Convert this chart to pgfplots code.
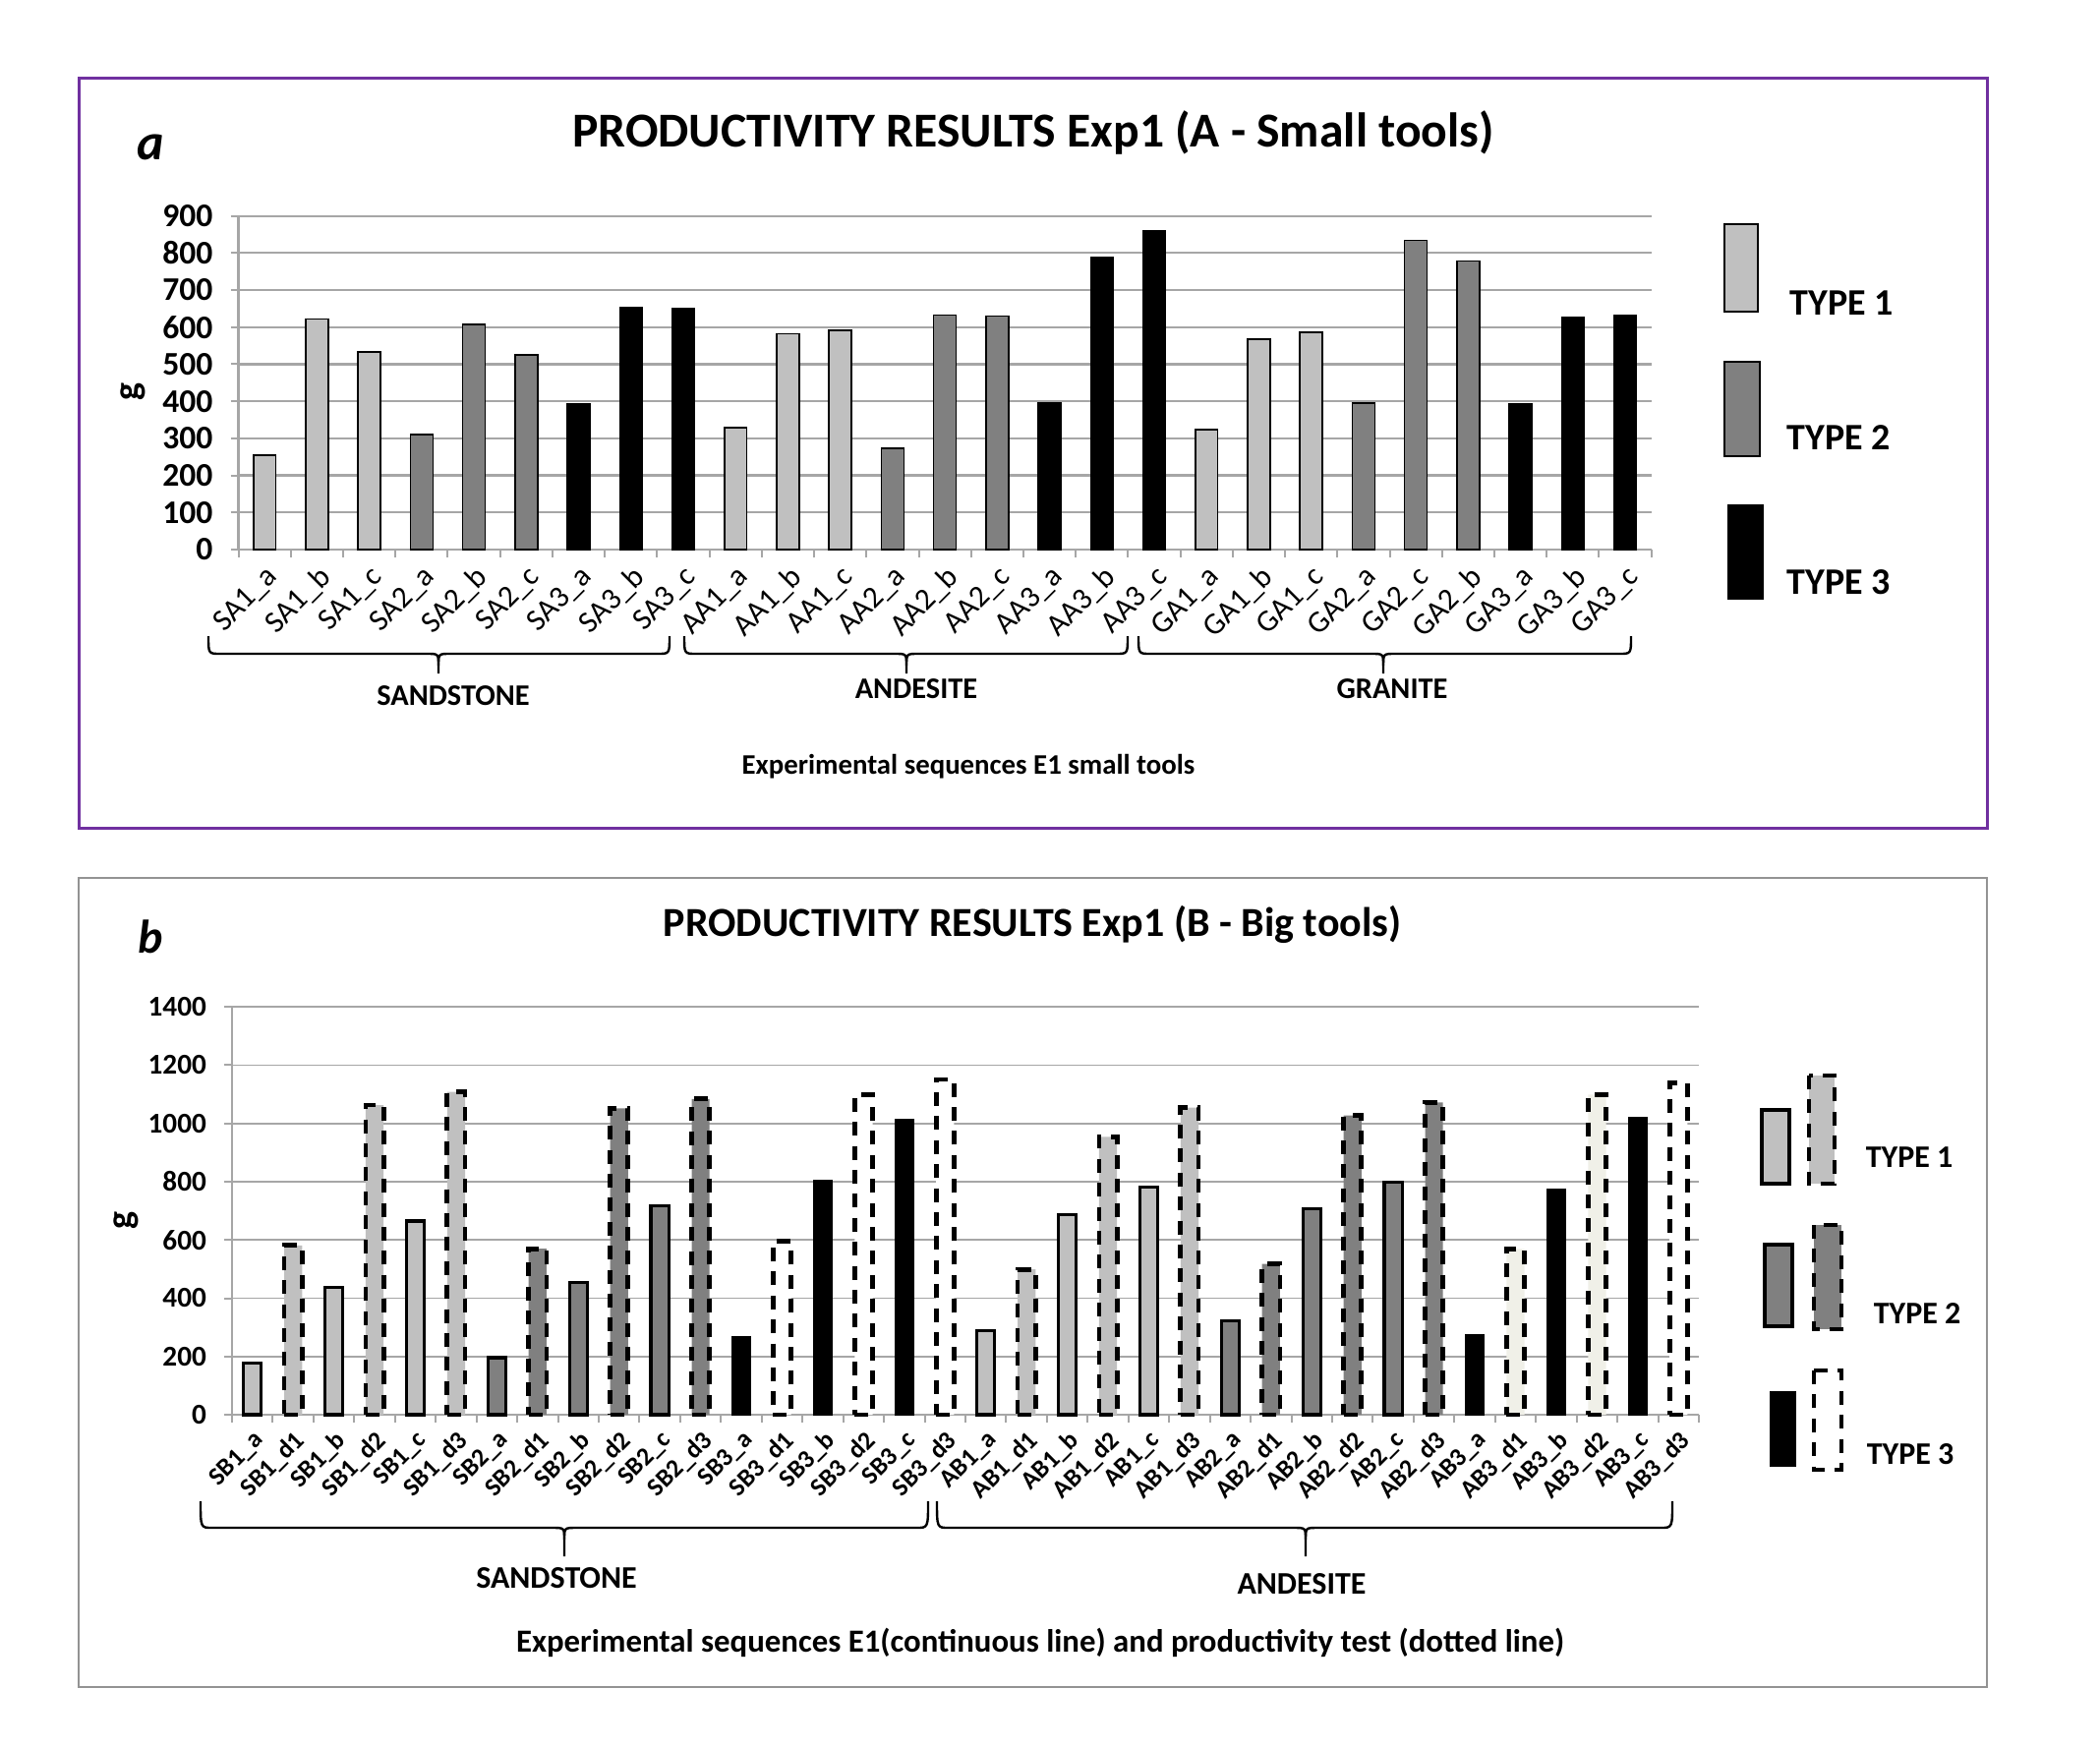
\documentclass[border=0pt]{standalone}
\usepackage{pgfplots}
\pgfplotsset{compat=1.18}
\usepackage{fontspec}
\setmainfont{Carlito}
\definecolor{purp}{RGB}{112,48,160}
\definecolor{tone}{RGB}{192,192,192}
\definecolor{ttwo}{RGB}{128,128,128}
\definecolor{ivory}{RGB}{240,240,232}
\definecolor{gridc}{RGB}{166,166,166}
\newcommand{\fs}[1]{\fontsize{#1}{#1}\selectfont}
\newcommand{\mybrace}[6]{%
 \draw[line width=0.6pt] (#1,#4) .. controls (#1,#5) .. (#1+12,#5) -- (#3-12,#5) .. controls (#3,#5) .. (#3,#5+12) -- (#3,#6);
 \draw[line width=0.6pt] (#2,#4) .. controls (#2,#5) .. (#2-12,#5) -- (#3+12,#5) .. controls (#3,#5) .. (#3,#5+12);}
\tikzset{
 dsh/.style={draw=black, line width=1.2pt, dash pattern=on 3.5pt off 2.6pt},
 sol/.style={draw=black, line width=0.8pt},
}
\pgfplotsset{
 common/.style={
  scale only axis, anchor=south west, ybar, bar shift=0pt,
  axis x line*=bottom, axis y line*=left,
  axis line style={-, draw=gridc, line width=0.6pt},
  tick align=outside,
  major x tick style={draw=none},
  minor x tick style={draw=gridc, line width=0.5pt},
  y tick style={draw=gridc, line width=0.5pt},
  minor tick length=2pt, major tick length=2pt,
  ymajorgrids, grid style={gridc, line width=0.55pt},
  /pgf/number format/assume math mode=true,
  /pgf/number format/1000 sep={},
  xticklabel style={rotate=45, anchor=north east, inner sep=1pt},
  yticklabel style={xshift=-1pt},
  clip=false,
 },
}
\begin{document}
\begin{tikzpicture}
\begin{scope}[x=0.25pt,y=-0.25pt]
\path (0,0) rectangle (2136,1776);
% frames
\draw[purp, line width=0.75pt] (80,80) rectangle (2021,842);
\draw[gray!85, line width=0.5pt] (80,893) rectangle (2021,1716);
% panel a texts
\node[font=\bfseries\fs{12.4}] at (1051,135) {PRODUCTIVITY RESULTS Exp1 (A - Small tools)};
\node[font=\bfseries\itshape\fs{13}] at (153,150) {a};
\node[font=\bfseries\fs{9.5}, rotate=90] at (135,398) {g};
\mybrace{212}{681}{446}{647}{665}{685}
\mybrace{696}{1147}{922}{647}{665}{685}
\mybrace{1158}{1659}{1407}{647}{665}{685}
\node[font=\bfseries\fs{7.6}] at (461,708) {SANDSTONE};
\node[font=\bfseries\fs{7.6}] at (932,701) {ANDESITE};
\node[font=\bfseries\fs{7.6}] at (1416,701) {GRANITE};
\node[font=\bfseries\fs{7.2}] at (985,780) {Experimental sequences E1 small tools};
% legend a
\draw[fill=tone, draw=black, line width=0.4pt] (1754,228) rectangle (1788,317);
\draw[fill=ttwo, draw=black, line width=0.4pt] (1754,368) rectangle (1790,464);
\fill[black] (1757,513) rectangle (1794,610);
\node[font=\bfseries\fs{9.5}] at (1873,308) {TYPE 1};
\node[font=\bfseries\fs{9.5}] at (1870,445) {TYPE 2};
\node[font=\bfseries\fs{9.5}] at (1870,592) {TYPE 3};
% panel b texts
\node[font=\bfseries\fs{10.5}] at (1050,940) {PRODUCTIVITY RESULTS Exp1 (B - Big tools)};
\node[font=\bfseries\itshape\fs{12}] at (153,953) {b};
\node[font=\bfseries\fs{9.5}, rotate=90] at (128,1241) {g};
\mybrace{204}{944}{574}{1527}{1554}{1583}
\mybrace{953}{1701}{1328}{1527}{1554}{1583}
\node[font=\bfseries\fs{8}] at (566,1605) {SANDSTONE};
\node[font=\bfseries\fs{8}] at (1324,1611) {ANDESITE};
\node[font=\bfseries\fs{8.2}] at (1058,1671) {Experimental sequences E1(continuous line) and productivity test (dotted line)};
% legend b
\draw[fill=tone, sol] (1792,1129) rectangle (1820,1204);
\draw[fill=tone, dsh] (1840,1094) rectangle (1866,1204);
\draw[fill=ttwo, sol] (1795,1266) rectangle (1823,1349);
\draw[fill=ttwo, dsh] (1845,1246) rectangle (1873,1352);
\fill[black] (1800,1415) rectangle (1827,1492);
\draw[fill=white, dsh] (1845,1394) rectangle (1873,1495);
\node[font=\bfseries\fs{8}, anchor=west, inner sep=0pt] at (1897,1177) {TYPE 1};
\node[font=\bfseries\fs{8}, anchor=west, inner sep=0pt] at (1905,1336) {TYPE 2};
\node[font=\bfseries\fs{8}, anchor=west, inner sep=0pt] at (1898,1479) {TYPE 3};
\end{scope}

% ---------- panel a ----------
\begin{axis}[common,
 at={(60.65pt,-139.75pt)}, width=359.25pt, height=84.85pt,
 bar width=0.43,
 xmin=-0.5, xmax=26.5, ymin=0, ymax=900,
 ytick={0,100,...,900},
 xtick={0,...,26},
 minor xtick={-0.5,0.5,...,26.5},
 xticklabels={SA1\_a,SA1\_b,SA1\_c,SA2\_a,SA2\_b,SA2\_c,SA3\_a,SA3\_b,SA3\_c,AA1\_a,AA1\_b,AA1\_c,AA2\_a,AA2\_b,AA2\_c,AA3\_a,AA3\_b,AA3\_c,GA1\_a,GA1\_b,GA1\_c,GA2\_a,GA2\_c,GA2\_b,GA3\_a,GA3\_b,GA3\_c},
 yticklabel style={font=\bfseries\fs{8.4}},
 xticklabel style={font=\fs{7.8}},
]
\addplot[fill=tone, draw=black, line width=0.4pt] coordinates {(0,255) (1,622) (2,533) (9,329) (10,582) (11,592) (18,323) (19,568) (20,586)};
\addplot[fill=ttwo, draw=black, line width=0.4pt] coordinates {(3,311) (4,608) (5,525) (12,273) (13,633) (14,630) (21,395) (22,834) (23,778)};
\addplot[fill=black, draw=black, line width=0.4pt] coordinates {(6,393) (7,653) (8,649) (15,397) (16,788) (17,859) (24,393) (25,627) (26,631)};
\end{axis}

% ---------- panel b ----------
\begin{axis}[common,
 at={(59pt,-359.75pt)}, width=373pt, height=103.7pt,
 bar width=0.44,
 xmin=-0.5, xmax=35.5, ymin=0, ymax=1400,
 ytick={0,200,...,1400},
 xtick={0,...,35},
 minor xtick={-0.5,0.5,...,35.5},
 xticklabels={SB1\_a,SB1\_d1,SB1\_b,SB1\_d2,SB1\_c,SB1\_d3,SB2\_a,SB2\_d1,SB2\_b,SB2\_d2,SB2\_c,SB2\_d3,SB3\_a,SB3\_d1,SB3\_b,SB3\_d2,SB3\_c,SB3\_d3,AB1\_a,AB1\_d1,AB1\_b,AB1\_d2,AB1\_c,AB1\_d3,AB2\_a,AB2\_d1,AB2\_b,AB2\_d2,AB2\_c,AB2\_d3,AB3\_a,AB3\_d1,AB3\_b,AB3\_d2,AB3\_c,AB3\_d3},
 yticklabel style={font=\bfseries\fs{7.3}},
 xticklabel style={font=\bfseries\fs{6.5}},
 grid style={gridc, line width=0.45pt},
]
\addplot[fill=tone, sol] coordinates {(0,177) (2,436) (4,665) (18,288) (20,686) (22,781)};
\addplot[fill=tone, dsh] coordinates {(1,581) (3,1063) (5,1108) (19,499) (21,954) (23,1054)};
\addplot[fill=ttwo, sol] coordinates {(6,196) (8,454) (10,716) (24,323) (26,708) (28,798)};
\addplot[fill=ttwo, dsh] coordinates {(7,570) (9,1052) (11,1084) (25,518) (27,1027) (29,1072)};
\addplot[fill=black, draw=black, line width=0.4pt] coordinates {(12,267) (14,804) (16,1013) (30,275) (32,773) (34,1020)};
\addplot[fill=white, dsh] coordinates {(13,596) (15,1100) (17,1151) (35,1139)};
\addplot[fill=ivory, dsh] coordinates {(31,569) (33,1099)};
\end{axis}
\end{tikzpicture}
\end{document}
